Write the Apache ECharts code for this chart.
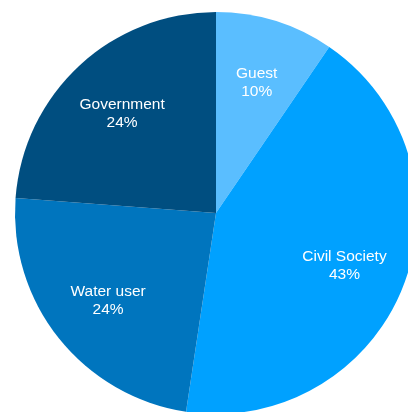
<!DOCTYPE html>
<html>
<head>
<meta charset="utf-8">
<script src="https://cdn.jsdelivr.net/npm/echarts@6/dist/echarts.min.js"></script>
<style>html,body{margin:0;padding:0;background:#fff;}#c{width:408px;height:412px;}</style>
</head>
<body>
<div id="c"></div>
<script>
var categories = ['Guest', 'Civil Society', 'Water user', 'Government'];
var values = [4, 18, 10, 10];
var colors = ['#5abeff', '#00a1ff', '#0075be', '#004e80'];

var total = values.reduce(function (a, b) { return a + b; }, 0);
var data = categories.map(function (c, i) {
  return { name: c, value: values[i], itemStyle: { color: colors[i] } };
});
var labelData = categories.map(function (c, i) {
  return { name: c, value: values[i] };
});

var chart = echarts.init(document.getElementById('c'), null, { renderer: 'canvas' });
chart.setOption({
  animation: false,
  series: [
    {
      type: 'pie',
      center: [216, 213],
      radius: [0, 201],
      startAngle: 90,
      clockwise: true,
      silent: true,
      label: { show: false },
      labelLine: { show: false },
      itemStyle: { borderWidth: 0 },
      data: data
    },
    {
      type: 'pie',
      center: [216, 215],
      radius: [0, 270],
      startAngle: 90,
      clockwise: true,
      silent: true,
      itemStyle: { color: 'rgba(0,0,0,0)', borderWidth: 0 },
      label: {
        show: true,
        position: 'inside',
        color: '#ffffff',
        fontFamily: 'Liberation Sans, Arial, sans-serif',
        fontSize: 15.5,
        lineHeight: 18,
        textBorderWidth: 0,
        formatter: function (p) {
          return p.name + '\n' + Math.round(p.value / total * 100) + '%';
        }
      },
      labelLine: { show: false },
      data: labelData
    }
  ]
});
</script>
</body>
</html>
